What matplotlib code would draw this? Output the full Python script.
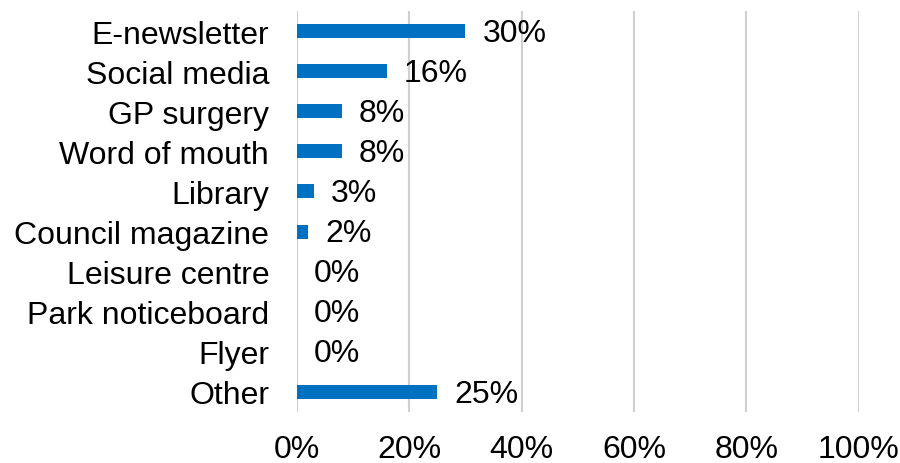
import matplotlib.pyplot as plt
import numpy as np

plt.rcParams['font.family'] = ['Liberation Sans', 'DejaVu Sans']

categories = ["E-newsletter", "Social media", "GP surgery", "Word of mouth", "Library",
              "Council magazine", "Leisure centre", "Park noticeboard", "Flyer", "Other"]
values = [30, 16, 8, 8, 3, 2, 0, 0, 0, 25]
xticks = [0, 20, 40, 60, 80, 100]

fig = plt.figure(figsize=(9, 4.64), dpi=100)
ax = fig.add_axes([0.33, 0.11, 0.624, 0.864])

y = np.arange(len(categories))
ax.barh(y, values, height=0.35, color="#0070C0", zorder=3)
for yi, v in zip(y, values):
  ax.text(v + 3, yi + 0.04, f"{v}%", va="center", ha="left", fontsize=23, color="black")

ax.set_xlim(0, 100)
ax.set_ylim(len(categories) - 0.5, -0.5)
ax.set_yticks(y)
ax.set_yticklabels(categories, fontsize=23)
ax.set_xticks(xticks)
ax.set_xticklabels([f"{t}%" for t in xticks], fontsize=23)
ax.tick_params(length=0)
ax.tick_params(axis="y", pad=20)
ax.tick_params(axis="x", pad=16)
for s in ax.spines.values():
  s.set_visible(False)
ax.grid(axis="x", color="#d0d0d0", linewidth=1.5, zorder=0)

fig.savefig("out.png")
